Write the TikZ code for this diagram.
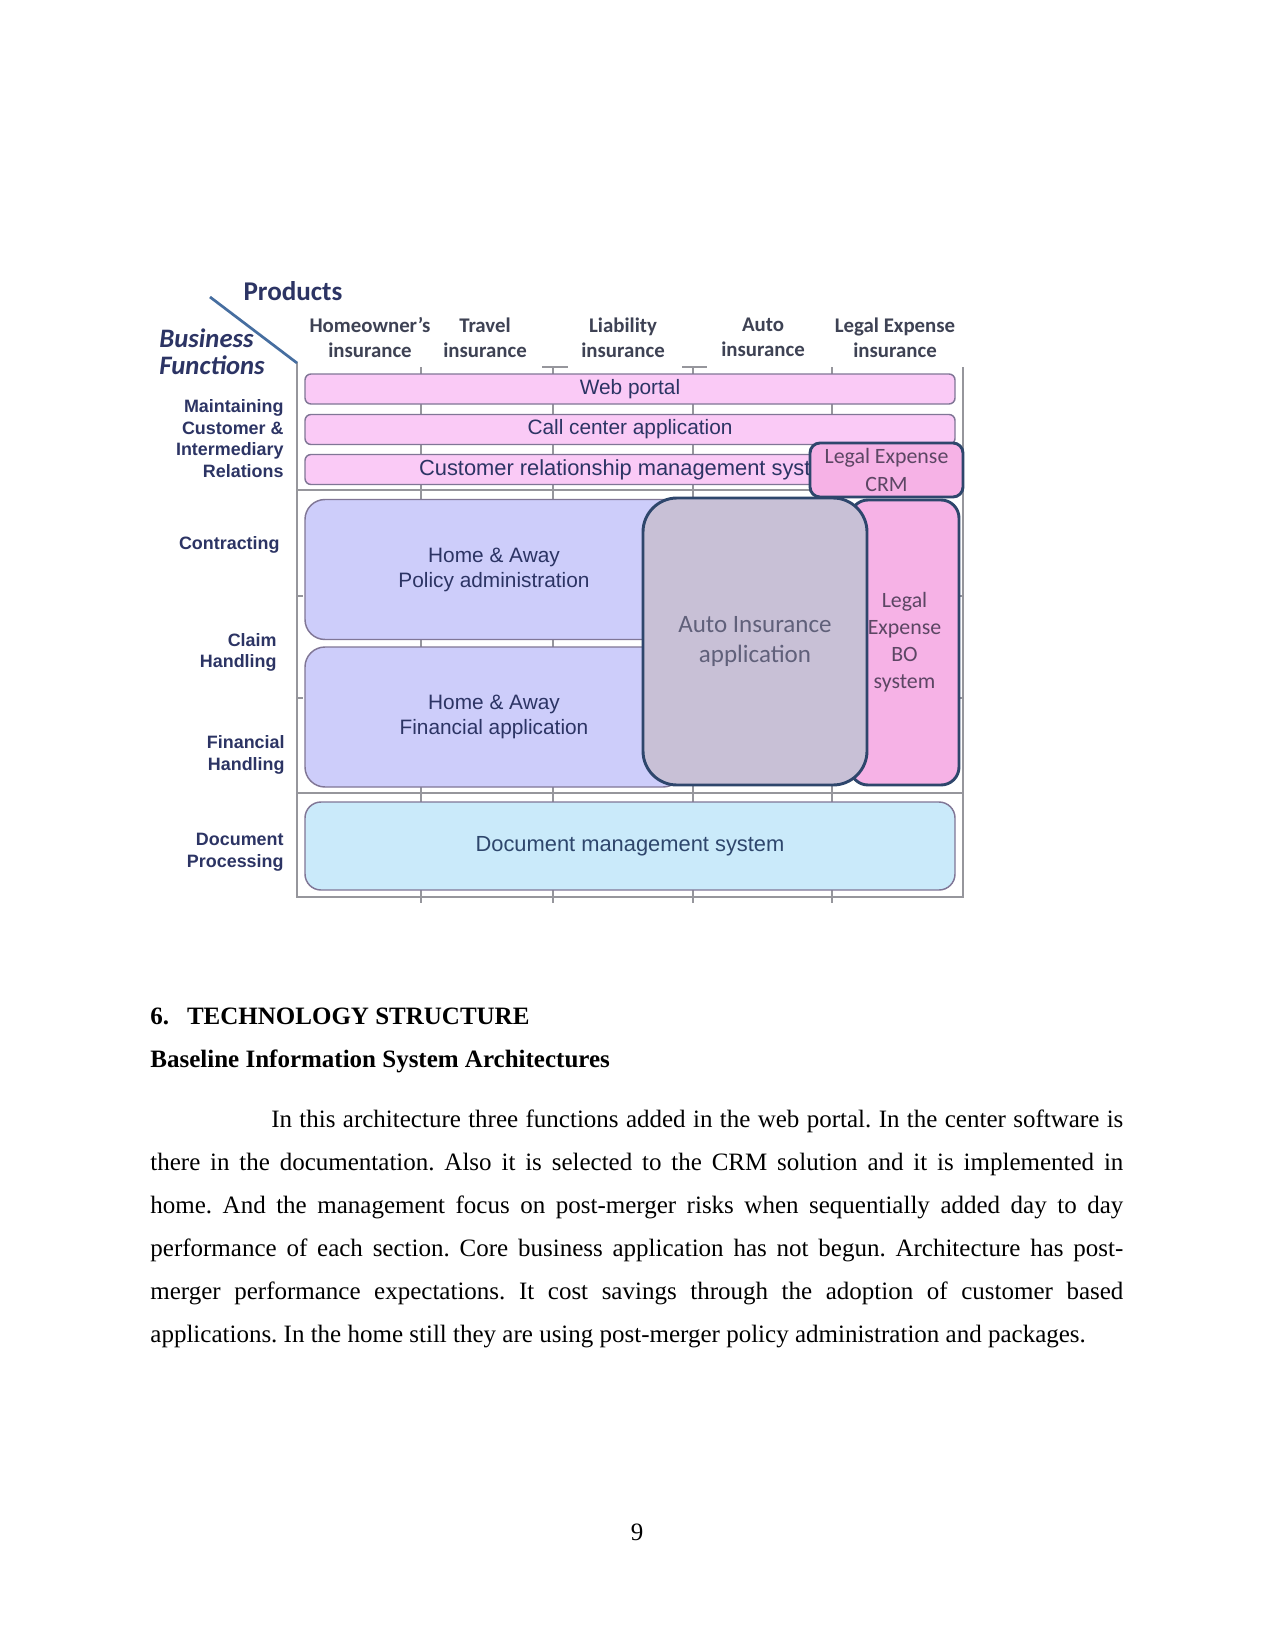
\documentclass[tikz,border=0pt]{standalone}
\usepackage{fontspec}
\setmainfont{Liberation Serif}
\newfontfamily\calfont{Carlito}
\newfontfamily\arialfont{Liberation Sans}
\usetikzlibrary{positioning}
\definecolor{navytext}{RGB}{44, 52, 100}
\definecolor{headgray}{RGB}{62, 66, 84}
\definecolor{gridgray}{RGB}{150, 150, 156}
\definecolor{barpink}{RGB}{250, 202, 246}
\definecolor{barborder}{RGB}{128, 118, 150}
\definecolor{hotpink}{RGB}{246, 178, 230}
\definecolor{lavender}{RGB}{205, 205, 250}
\definecolor{mauvegray}{RGB}{200, 192, 214}
\definecolor{skyblue}{RGB}{202, 234, 250}
\definecolor{darkslate}{RGB}{46, 70, 108}
\definecolor{diagblue}{RGB}{70, 110, 160}
\definecolor{autotext}{RGB}{96, 96, 122}
\definecolor{legaltext}{RGB}{92, 70, 100}
\newlength\px
\setlength\px{0.48pt}
\tikzset{
  gridline/.style={gridgray, line width=0.7pt},
  appbar/.style={draw=barborder, line width=0.7pt, rounded corners=6\px, inner sep=0pt,
    text=navytext, align=center, font=\arialfont\fontsize{10}{12}\selectfont},
  pinkbar/.style={appbar, fill=barpink, minimum width=650\px, minimum height=30\px},
  lavbox/.style={appbar, fill=lavender, rounded corners=20\px, minimum width=378\px, minimum height=140\px},
  docbox/.style={appbar, fill=skyblue, rounded corners=16\px, minimum width=650\px, minimum height=88\px,
    text=darkslate, font=\arialfont\fontsize{10.5}{12.5}\selectfont},
  thickbox/.style={draw=darkslate, line width=1.4pt, inner sep=0pt, align=center},
  autobox/.style={thickbox, fill=mauvegray, rounded corners=34\px, minimum width=224\px, minimum height=287\px,
    text=autotext, font=\calfont\fontsize{12}{14.4}\selectfont},
  legalbo/.style={thickbox, fill=hotpink, rounded corners=18\px, minimum width=109\px, minimum height=285\px,
    text=legaltext, font=\calfont\fontsize{10.5}{13}\selectfont},
  legalcrm/.style={thickbox, fill=hotpink, rounded corners=10\px, minimum width=153\px, minimum height=54\px,
    text=legaltext, font=\calfont\fontsize{10.5}{13}\selectfont},
  headtext/.style={align=center, inner sep=0pt, text=headgray, font=\calfont\bfseries\fontsize{10}{12}\selectfont},
  funclabel/.style={anchor=east, align=right, inner sep=0pt, text=navytext, font=\arialfont\bfseries\fontsize{8.6}{10.4}\selectfont}
}

\begin{document}
\begin{tikzpicture}[x=0.48pt, y=-0.48pt]
    \useasboundingbox[fill=white] (0,0) rectangle (1275,1651);

    % grid behind the applications
    \draw[gridline] (297,362) -- (297,897) -- (963,897) -- (963,367);
    \draw[gridline] (297,490) -- (963,490);
    \draw[gridline] (297,793) -- (963,793);
    \foreach \gx in {421, 553, 693, 832}
        \draw[gridline] (\gx,367) -- (\gx,903);
    \draw[gridline] (542,367) -- (568,367);
    \draw[gridline] (682,367) -- (707,367);
    \foreach \gy in {596, 698} {
        \draw[gridline] (297,\gy) -- (303,\gy);
        \draw[gridline] (957,\gy) -- (963,\gy);
    }

    % products and business functions
    \node[text=navytext, font=\calfont\bfseries\fontsize{13}{15}\selectfont] (products) at (293,291) {Products};
    \node[anchor=west, align=left, inner sep=0pt, text=navytext, font=\calfont\bfseries\itshape\fontsize{12.8}{12.8}\selectfont] (busfunc) at (159,352) {Business\\Functions};
    \coordinate (diagtop) at (210,297);
    \coordinate (diagfoot) at (297,363);
    \draw[diagblue, line width=1.3pt] (diagtop) -- (diagfoot);

    \node[headtext] (homeowner) at (370,337.5) {Homeowner’s\\insurance};
    \node[headtext] (travel) at (485,337.5) {Travel\\insurance};
    \node[headtext] (liability) at (623,337.5) {Liability\\insurance};
    \node[headtext] (auto) at (763,337.5) {Auto\\insurance};
    \node[headtext] (legalexp) at (895,337.5) {Legal Expense\\insurance};

    \node[funclabel] (maintaining) at (284,438.5) {Maintaining\\Customer \&\\Intermediary\\Relations};
    \node[funclabel] (contracting) at (280,545) {Contracting};
    \node[funclabel] (claim) at (277,652.5) {Claim\\Handling};
    \node[funclabel] (finhandling) at (285,755) {Financial\\Handling};
    \node[funclabel] (docproc) at (284,852) {Document\\Processing};

    % applications
    \node[pinkbar] (webportal) at (630,389) {Web portal};
    \node[pinkbar] (callcenter) at (630,429.5) {Call center application};
    \node[pinkbar, font=\arialfont\fontsize{10.5}{12}\selectfont] (crmsys) at (630,469.5) {Customer relationship management system};
    \node[lavbox] (policy) at (494,569.5) {Home \& Away\\Policy administration};
    \node[lavbox] (financial) at (494,717) {Home \& Away\\Financial application};
    \node[docbox] (docmgmt) at (630,846) {Document management system};
    \node[legalbo] (legalbo) at (904.5,642.5) {Legal\\Expense\\BO\\system};
    \node[autobox] (autoapp) at (755,641.5) {Auto Insurance\\application};
    \node[legalcrm] (legalcrm) at (886.5,470) {Legal Expense\\CRM};

    % page text
    \node[anchor=base west, inner sep=0pt, font=\bfseries\fontsize{12}{14}\selectfont] (secthead) at (150,1024) {6.\hspace{8.6pt}TECHNOLOGY STRUCTURE};
    \node[anchor=base west, inner sep=0pt, font=\bfseries\fontsize{12}{14}\selectfont] (subhead) at (150,1067) {Baseline Information System Architectures};
    \node[anchor=base west, inner sep=0pt, text width=467pt, align=justify, font=\fontsize{12}{20.72}\selectfont] (bodytext) at (150,1127) {%
        \frenchspacing\hyphenpenalty=10000\tolerance=9999\hspace*{58pt}In this architecture three functions added in the web portal. In the center software is\linebreak
        there in the documentation. Also it is selected to the CRM solution and it is implemented in\linebreak
        home. And the management focus on post-merger risks when sequentially added day to day\linebreak
        performance of each section. Core business application has not begun. Architecture has post-\linebreak
        merger performance expectations. It cost savings through the adoption of customer based\linebreak
        applications. In the home still they are using post-merger policy administration and packages.};
    \node[anchor=base, inner sep=0pt, font=\fontsize{12}{14}\selectfont] (pagenum) at (637,1540) {9};
\end{tikzpicture}
\end{document}
